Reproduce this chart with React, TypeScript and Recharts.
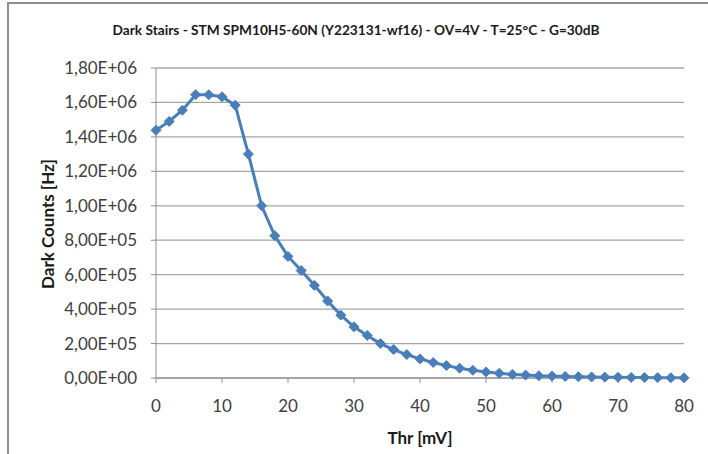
import { LineChart, Line, XAxis, YAxis, CartesianGrid } from 'recharts'

const thr = [
  0, 2, 4, 6, 8, 10, 12, 14, 16, 18, 20, 22, 24, 26, 28, 30, 32, 34, 36, 38, 40,
  42, 44, 46, 48, 50, 52, 54, 56, 58, 60, 62, 64, 66, 68, 70, 72, 74, 76, 78, 80,
]

const darkCounts = [
  1438000, 1490000, 1555000, 1645000, 1645000, 1633000, 1584000, 1300000, 1000000,
  826000, 706000, 624000, 538000, 447000, 365000, 297000, 247000, 200000, 165000,
  136000, 111000, 90000, 72000, 57000, 45000, 35000, 27000, 21000, 17000, 13000,
  11000, 9000, 7500, 6000, 5000, 4000, 3200, 2600, 2000, 1500, 1000,
]

const xTicks = [0, 10, 20, 30, 40, 50, 60, 70, 80]
const yTicks = [0, 200000, 400000, 600000, 800000, 1000000, 1200000, 1400000, 1600000, 1800000]

const data = thr.map((t, i) => ({ thr: t, counts: darkCounts[i] }))

const FONT = 'Lato, "Open Sans", sans-serif'
const BLUE = '#4a7ebb'

function fmtExp(v: number) {
  const [m, e] = v.toExponential(2).split('e')
  const sign = e.startsWith('-') ? '-' : '+'
  const digits = e.replace(/[+-]/, '').padStart(2, '0')
  return `${m.replace('.', ',')}E${sign}${digits}`
}

function Diamond(props: any) {
  const { cx, cy } = props
  if (cx == null || cy == null) return null
  const r = 5
  return (
    <polygon
      points={`${cx},${cy - r} ${cx + r},${cy} ${cx},${cy + r} ${cx - r},${cy}`}
      fill={BLUE}
      stroke={BLUE}
      strokeWidth={1}
    />
  )
}

export default function App() {
  return (
    <div style={{ position: 'absolute', left: 0, top: 0, width: 708, height: 454, background: '#fff', fontFamily: FONT }}>
      <div style={{ position: 'absolute', left: 7, top: 2, width: 701, height: 452, borderTop: '2px solid #8e8e8e', borderLeft: '2px solid #8e8e8e' }} />
      <div style={{ position: 'absolute', left: 0, width: 712, top: 21, textAlign: 'center', fontSize: 13.7, fontWeight: 700, color: '#1a1a1a' }}>
        Dark Stairs - STM SPM10H5-60N (Y223131-wf16) - OV=4V - T=25°C - G=30dB
      </div>
      <div style={{ position: 'absolute', left: 47, top: 224, transform: 'translate(-50%, -50%) rotate(-90deg)', whiteSpace: 'nowrap', fontSize: 17, fontWeight: 700, color: '#1a1a1a' }}>
        Dark Counts [Hz]
      </div>
      <div style={{ position: 'absolute', left: 420, top: 437, transform: 'translate(-50%, -50%)', whiteSpace: 'nowrap', fontSize: 17, fontWeight: 700, color: '#1a1a1a' }}>
        Thr [mV]
      </div>
      <LineChart
        width={708}
        height={454}
        data={data}
        margin={{ top: 68, right: 24, bottom: 0, left: 0 }}
        style={{ position: 'absolute', left: 0, top: 0 }}
      >
        <CartesianGrid vertical={false} stroke="#a6a6a6" strokeWidth={1.3} />
        <XAxis
          dataKey="thr"
          type="number"
          domain={[0, 80]}
          ticks={xTicks}
          height={76}
          tickSize={5}
          tickMargin={17}
          stroke="#8e8e8e"
          tick={{ fill: '#404040', fontSize: 17, fontFamily: FONT }}
        />
        <YAxis
          type="number"
          domain={[0, 1800000]}
          ticks={yTicks}
          width={156}
          tickSize={5}
          tickMargin={14}
          tickFormatter={fmtExp}
          stroke="#8e8e8e"
          tick={{ fill: '#404040', fontSize: 17, fontFamily: FONT }}
        />
        <Line
          dataKey="counts"
          stroke={BLUE}
          strokeWidth={3}
          dot={<Diamond />}
          activeDot={false}
          isAnimationActive={false}
        />
      </LineChart>
    </div>
  )
}
